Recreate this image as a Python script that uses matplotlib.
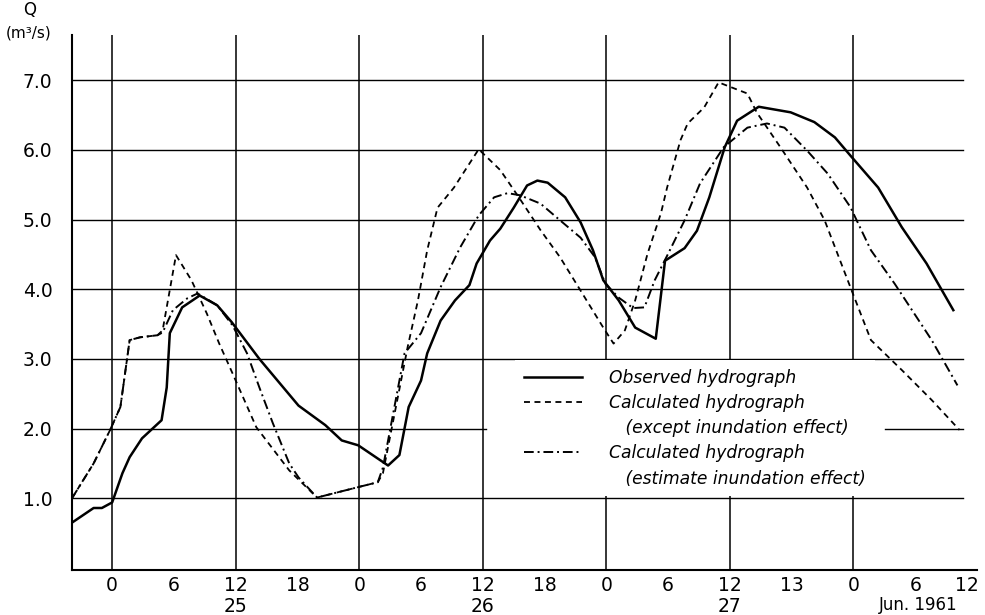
import matplotlib
matplotlib.use("Agg")
import matplotlib.pyplot as plt
from matplotlib.lines import Line2D
from matplotlib.transforms import ScaledTranslation

# ---- data (hours from 25 Jun 00:00, discharge Q in m3/s) ----
obs_h = [-3.9, -1.8, -1.0, 0.0, 1.0, 1.7, 2.9, 4.8, 5.3, 5.6, 6.8, 8.5, 10.2, 11.6, 14.3,
         18.1, 20.7, 22.3, 23.9, 26.8, 27.9, 28.8, 30.0, 30.6, 31.9, 33.3, 34.7, 35.4, 36.7,
         37.7, 39.0, 40.3, 41.3, 42.3, 44.0, 45.5, 46.7, 47.7, 49.2, 50.8, 52.8, 53.7, 55.6,
         56.8, 58.0, 59.5, 60.7, 62.8, 65.9, 68.2, 70.2, 71.7, 74.4, 76.7, 79.1, 81.7]
obs_q = [0.65, 0.86, 0.86, 0.94, 1.36, 1.59, 1.86, 2.12, 2.59, 3.37, 3.74, 3.91, 3.77, 3.53, 3.00,
         2.33, 2.05, 1.83, 1.76, 1.47, 1.62, 2.31, 2.69, 3.08, 3.55, 3.84, 4.06, 4.37, 4.70,
         4.87, 5.17, 5.49, 5.56, 5.53, 5.32, 4.96, 4.56, 4.13, 3.84, 3.45, 3.29, 4.41, 4.59,
         4.84, 5.32, 6.04, 6.42, 6.62, 6.54, 6.40, 6.18, 5.92, 5.46, 4.89, 4.37, 3.70]

calc_h = [-3.9, -1.8, -0.2, 0.8, 1.7, 2.7, 4.4, 4.9, 6.2, 7.7, 9.2, 10.4, 11.7, 14.0, 17.2,
          19.9, 23.9, 25.8, 26.3, 28.7, 29.7, 30.6, 31.6, 33.2, 35.6, 37.7, 39.5, 41.6, 43.5,
          45.5, 47.7, 48.7, 49.8, 50.8, 52.0, 53.3, 53.9, 55.2, 55.9, 57.5, 58.9, 61.7, 62.6,
          64.9, 67.5, 69.2, 71.7, 73.7, 76.7, 79.6, 82.3]
calc_q = [1.00, 1.50, 1.98, 2.31, 3.27, 3.31, 3.34, 3.41, 4.49, 4.13, 3.65, 3.22, 2.79, 2.02, 1.40,
          1.01, 1.16, 1.23, 1.36, 3.17, 3.84, 4.56, 5.17, 5.46, 6.01, 5.71, 5.32, 4.85, 4.46,
          3.98, 3.45, 3.22, 3.41, 3.84, 4.51, 5.09, 5.46, 6.14, 6.38, 6.61, 6.97, 6.81, 6.54,
          6.04, 5.46, 4.99, 4.03, 3.27, 2.84, 2.41, 1.98]

est_h = [-3.9, -1.8, -0.2, 0.8, 1.7, 2.7, 4.4, 4.9, 5.9, 7.3, 8.3, 10.2, 11.7, 13.1, 14.3, 15.6,
         17.2, 18.1, 19.9, 23.9, 25.8, 26.3, 28.4, 30.0, 31.9, 33.8, 35.6, 37.1, 38.4, 39.6,
         41.6, 43.5, 45.5, 46.9, 47.9, 49.2, 50.6, 51.7, 52.7, 54.0, 55.6, 57.1, 59.4, 61.7,
         63.6, 65.3, 67.5, 69.5, 71.7, 73.7, 76.0, 79.6, 82.1]
est_q = [1.00, 1.50, 1.98, 2.31, 3.27, 3.31, 3.34, 3.38, 3.70, 3.87, 3.94, 3.77, 3.48, 3.08, 2.59, 2.08,
         1.50, 1.30, 1.01, 1.16, 1.23, 1.44, 3.08, 3.37, 4.03, 4.60, 5.06, 5.32, 5.38, 5.35,
         5.23, 4.99, 4.74, 4.46, 4.08, 3.88, 3.73, 3.74, 4.13, 4.51, 4.99, 5.52, 6.04, 6.32,
         6.38, 6.32, 5.99, 5.66, 5.18, 4.56, 4.08, 3.27, 2.62]

x_ticks = [0, 6, 12, 18, 24, 30, 36, 42, 48, 54, 60, 66, 72, 78, 84]
x_tick_labels = ["0", "6", "12", "18", "0", "6", "12", "18", "0", "6", "12", "13", "0", "6", "12"]
day_pos = [12, 36, 60]
day_labels = ["25", "26", "27"]
v_grid = [0, 12, 24, 36, 48, 60, 72]
y_ticks = [1, 2, 3, 4, 5, 6, 7]
y_tick_labels = ["1.0", "2.0", "3.0", "4.0", "5.0", "6.0", "7.0"]

labels = ["Observed hydrograph",
          "Calculated hydrograph",
          "   (except inundation effect)",
          "Calculated hydrograph",
          "   (estimate inundation effect)"]

plt.rcParams['font.family'] = ['DejaVu Sans']

fig = plt.figure(figsize=(9.85, 6.15), dpi=100)
ax = fig.add_axes([72 / 985, 1 - 570 / 615, (977 - 72) / 985, (570 - 35) / 615])
ax.set_xlim(-3.9, 84)
ax.set_ylim(-0.03, 7.65)

for s in ["top", "right"]:
    ax.spines[s].set_visible(False)
for s in ["left", "bottom"]:
    ax.spines[s].set_linewidth(1.5)

# horizontal grid (the 2.0 line is interrupted by the legend block)
for y in y_ticks:
    if y == 2:
        ax.axhline(y, xmin=0, xmax=(486 - 72) / 905, color="black", lw=1.0, zorder=1)
        ax.axhline(y, xmin=(885 - 72) / 905, xmax=0.985, color="black", lw=1.0, zorder=1)
    else:
        ax.axhline(y, xmin=0, xmax=0.985, color="black", lw=1.0, zorder=1)
for x in v_grid:
    ax.axvline(x, color="black", lw=1.1, zorder=1)

l1, = ax.plot(obs_h, obs_q, color="black", lw=1.8, zorder=3)
l2, = ax.plot(calc_h, calc_q, color="black", lw=1.3, dashes=(3.3, 2.5), zorder=3)
l3, = ax.plot(est_h, est_q, color="black", lw=1.4, dashes=(5, 2, 1, 2), zorder=3)

ax.set_xticks(x_ticks)
ax.set_xticklabels(x_tick_labels)
ax.set_yticks(y_ticks)
ax.set_yticklabels(y_tick_labels)
ax.tick_params(axis="x", length=0, pad=4, labelsize=13.5)
ax.tick_params(axis="y", length=0, pad=14, labelsize=13.5)

# nudge the last x label so it stays inside the figure
last = ax.get_xticklabels()[-1]
last.set_transform(last.get_transform() + ScaledTranslation(-7 / 72, 0, fig.dpi_scale_trans))

tr = ax.get_xaxis_transform()
for p, d in zip(day_pos, day_labels):
    ax.text(p, -0.069, d, transform=tr, ha="center", va="center", fontsize=13.5)
ax.text(78.3, -0.066, "Jun. 1961", transform=tr, ha="center", va="center", fontsize=12)

fig.text(30 / 985, 1 - 10 / 615, "Q", ha="center", va="center", fontsize=12)
fig.text(29 / 985, 1 - 33 / 615, "(m³/s)", ha="center", va="center", fontsize=11)

blank = Line2D([], [], linestyle="none")
leg = ax.legend([l1, l2, blank, l3, blank], labels,
                loc="upper left", bbox_to_anchor=(0.49, 0.392),
                frameon=True, facecolor="white", edgecolor="none", framealpha=1,
                fancybox=False, handlelength=3.4, handletextpad=1.6,
                labelspacing=0.42, borderpad=0.5, borderaxespad=0,
                prop={"style": "italic", "size": 12.3})
leg.set_zorder(5)

fig.savefig("out.png", dpi=100)
